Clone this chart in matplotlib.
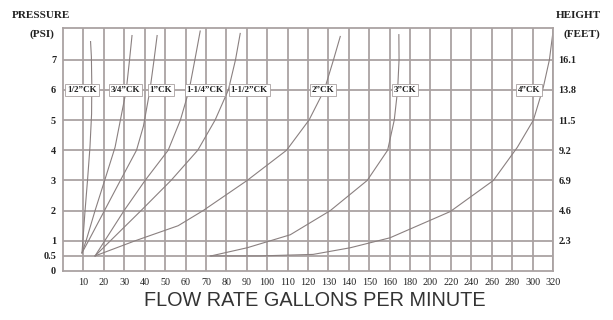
import numpy as np
import matplotlib
matplotlib.use("Agg")
import matplotlib.pyplot as plt

# ---------------- data ----------------
flow_ticks = [10, 20, 30, 40, 50, 60, 70, 80, 90, 100, 110, 120, 130, 140, 150, 160,
              180, 200, 220, 240, 260, 280, 300, 320]
psi_ticks = [0, 0.5, 1, 2, 3, 4, 5, 6, 7]
psi_labels = ["0", "0.5", "1", "2", "3", "4", "5", "6", "7"]
height_psi = [1, 2, 3, 4, 5, 6, 7]
height_labels = ["2.3", "4.6", "6.9", "9.2", "11.5", "13.8", "16.1"]

c12_flow = [9.3, 10.8, 12.0, 13.2, 14.0, 14.1, 13.9, 13.5]
c12_psi = [0.6, 2.0, 3.0, 4.1, 5.2, 6.2, 7.1, 7.6]

c34_flow = [9.3, 11.3, 15.7, 20.4, 25.5, 28.4, 31.0, 32.6, 33.8]
c34_psi = [0.6, 1.0, 2.0, 3.0, 4.1, 5.1, 6.0, 7.0, 7.8]

c1_flow = [9.3, 12.5, 20.3, 28.1, 36.0, 39.4, 42.6, 44.6, 46.1]
c1_psi = [0.6, 1.0, 2.0, 3.0, 4.0, 4.8, 6.0, 7.0, 7.8]

c114_flow = [15.7, 29.9, 40.2, 51.5, 57.5, 61.8, 64.6, 67.2]
c114_psi = [0.5, 2.0, 3.0, 4.0, 5.0, 6.0, 7.0, 7.95]

c112_flow = [15.7, 38.2, 52.9, 66.0, 74.5, 81.0, 84.5, 86.8]
c112_psi = [0.5, 2.0, 3.0, 4.0, 5.0, 6.0, 7.0, 7.87]

c2_flow = [15.7, 35.3, 56.4, 68.6, 90.2, 109.5, 120.5, 128.0, 132.5, 135.8]
c2_psi = [0.5, 1.0, 1.5, 2.0, 3.0, 4.0, 5.0, 6.0, 7.0, 7.77]

c3_flow = [72.5, 90.2, 111.3, 130.9, 149.0, 159.0, 164.5, 167.8, 169.2, 169.0]
c3_psi = [0.5, 0.77, 1.2, 2.0, 3.0, 4.0, 5.0, 6.0, 7.0, 7.83]

c4_flow = [72.1, 96.6, 122.5, 140.7, 160.3, 219.4, 261.6, 285.1, 300.8, 310.6, 316.5, 320]
c4_psi = [0.5, 0.5, 0.55, 0.77, 1.1, 1.97, 3.0, 4.1, 5.0, 6.1, 7.0, 7.93]

curve_names = ['1/2”CK', '3/4”CK', '1”CK', '1-1/4”CK', '1-1/2”CK', '2”CK', '3”CK', '4”CK']
label_flow = [9.3, 30.4, 48.0, 69.6, 91.2, 127.5, 175.3, 296.9]
label_psi = [6.0, 6.0, 6.0, 6.0, 6.0, 6.0, 6.0, 6.0]

curves = [(c12_flow, c12_psi), (c34_flow, c34_psi), (c1_flow, c1_psi),
          (c114_flow, c114_psi), (c112_flow, c112_psi), (c2_flow, c2_psi),
          (c3_flow, c3_psi), (c4_flow, c4_psi)]

# ---------------- piecewise flow scale ----------------
def fwd(v):
    v = np.asarray(v, dtype=float)
    return np.where(v <= 160, v / 10.0, 16 + (v - 160) / 20.0)

def inv(i):
    i = np.asarray(i, dtype=float)
    return np.where(i <= 16, i * 10.0, 160 + (i - 16) * 20.0)

SERIF = "Liberation Serif"
grid_c = "#aaa2a2"
curve_c = "#8a8080"
text_c = "#222222"

fig = plt.figure(figsize=(6.13, 3.20), dpi=100)
fig.patch.set_facecolor("white")
ax = fig.add_axes([63 / 613, 49 / 320, 490 / 613, 243 / 320])
ax.set_xscale("function", functions=(fwd, inv))
ax.set_xlim(0, 320)
ax.set_ylim(0, 8.05)

ax.set_xticks(flow_ticks)
ax.set_xticklabels([str(t) for t in flow_ticks], fontfamily=SERIF, fontsize=7.3,
                   color=text_c)
ax.set_yticks(psi_ticks)
ax.set_yticklabels(psi_labels, fontfamily=SERIF, fontsize=7.3, fontweight="bold", color=text_c)
ax.tick_params(axis="both", length=0, pad=5)
ax.minorticks_off()

for t in flow_ticks:
    ax.axvline(t, color=grid_c, lw=1.3, zorder=1)
for t in psi_ticks[1:]:
    ax.axhline(t, color=grid_c, lw=1.3, zorder=1)
for s in ax.spines.values():
    s.set_color(grid_c)
    s.set_linewidth(1.3)

for (fx, py) in curves:
    ax.plot(fx, py, color=curve_c, lw=0.8, zorder=2)

for name, lx, ly in zip(curve_names, label_flow, label_psi):
    ax.text(lx, ly, name, fontfamily=SERIF, fontsize=6.5, fontweight="bold", color=text_c,
            ha="center", va="center", zorder=5,
            bbox=dict(boxstyle="square,pad=0.2", fc="white", ec="#a8a0a0", lw=0.6))

ax2 = ax.twinx()
ax2.set_ylim(ax.get_ylim())
ax2.set_yticks(height_psi)
ax2.set_yticklabels(height_labels, fontfamily=SERIF, fontsize=7.3, fontweight="bold", color=text_c)
ax2.tick_params(axis="y", length=0, pad=4)
for s in ax2.spines.values():
    s.set_visible(False)

fig.text(12 / 613, 1 - 15 / 320, "PRESSURE", fontfamily=SERIF, fontsize=8, fontweight="bold",
         color=text_c, ha="left", va="center")
fig.text(42 / 613, 1 - 34 / 320, "(PSI)", fontfamily=SERIF, fontsize=8, fontweight="bold",
         color=text_c, ha="center", va="center")
fig.text(601 / 613, 1 - 15 / 320, "HEIGHT", fontfamily=SERIF, fontsize=8, fontweight="bold",
         color=text_c, ha="right", va="center")
fig.text(600 / 613, 1 - 34 / 320, "(FEET)", fontfamily=SERIF, fontsize=8, fontweight="bold",
         color=text_c, ha="right", va="center")

fig.text(315 / 613, 1 - 301 / 320, "FLOW RATE GALLONS PER MINUTE", fontfamily="Liberation Sans",
         fontsize=14.3, color="#333333", ha="center", va="center")

fig.savefig("out.png", dpi=100, facecolor="white")
